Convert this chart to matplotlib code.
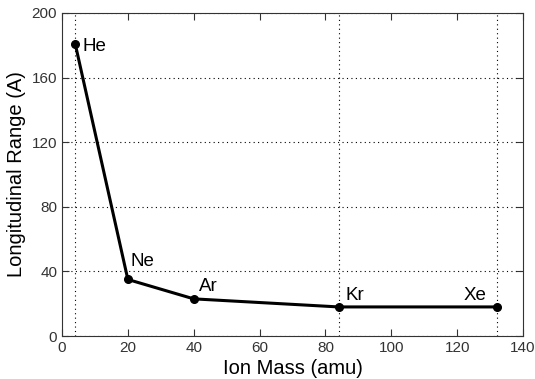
import matplotlib.pyplot as plt
from matplotlib.ticker import FixedLocator

plt.rcParams['font.family'] = ['Liberation Sans', 'DejaVu Sans']

ions = ["He", "Ne", "Ar", "Kr", "Xe"]
mass = [4, 20, 40, 84, 132]
rng = [181, 35, 23, 18, 18]
xticks = [0, 20, 40, 60, 80, 100, 120, 140]
yticks = [0, 40, 80, 120, 160, 200]

# label offsets in points
offsets = {"He": (5, -5), "Ne": (2, 10), "Ar": (4, 6), "Kr": (5, 5), "Xe": (-24, 5)}

fig = plt.figure(figsize=(5.35, 3.79), dpi=100)
ax = fig.add_axes([62/535, 1 - 336/379, 461/535, 323/379])

ax.plot(mass, rng, 'k-', lw=2.2, marker='o', ms=5.5)
for name, x, y in zip(ions, mass, rng):
  ax.annotate(name, (x, y), xytext=offsets[name], textcoords='offset points',
              fontsize=13.5)

ax.set_xlim(0, 140)
ax.set_ylim(0, 200)
ax.set_xticks(xticks)
ax.set_yticks(yticks)
ax.xaxis.set_minor_locator(FixedLocator(mass))
ax.tick_params(which='both', direction='in', top=True, right=True, labelsize=11,
               colors='#333333')
ax.tick_params(which='minor', length=0)
ax.tick_params(which='major', length=5, labelcolor='#333333')
ax.grid(False)
ax.grid(True, which='minor', axis='x', ls=(0, (1, 3)), color='k', lw=0.8)
ax.grid(True, which='major', axis='y', ls=(0, (1, 3)), color='k', lw=0.8)
for s in ax.spines.values():
  s.set_color('#333333')

ax.set_xlabel("Ion Mass (amu)", fontsize=14.5, labelpad=3)
ax.set_ylabel("Longitudinal Range (A)", fontsize=14.5, labelpad=4)

fig.savefig("out.png", dpi=100)
